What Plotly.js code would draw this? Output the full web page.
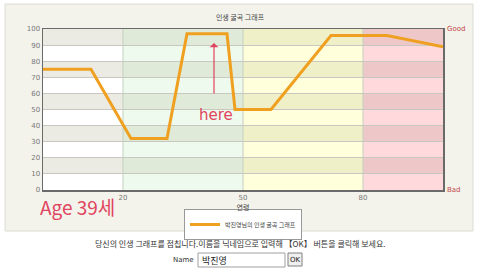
<!DOCTYPE html>
<html><head><meta charset="utf-8">
<script src="https://cdn.plot.ly/plotly-3.0.1.min.js"></script>
<style>html,body{margin:0;padding:0;background:#fff;}#c{width:480px;height:270px;}</style>
</head><body><div id="c"></div>
<script>
// Data
var ages = [0, 12, 22, 31, 36, 46, 48, 57, 72, 86, 100];
var scores = [75, 75, 32, 32, 97, 97, 50, 50, 96, 96, 89];
var seriesName = "박진영님의 인생 굴곡 그래프";
var chartTitle = "인생 굴곡 그래프";
var xTitle = "연령";
var xTicks = [20, 50, 80];
var yTicks = [0, 10, 20, 30, 40, 50, 60, 70, 80, 90, 100];
var zoneEdges = [0, 20, 50, 80, 100];
var zoneDark = ["#ebebe4", "#dfebd8", "#f0f0c8", "#eec8c8"];
var zoneLight = ["#ffffff", "#effaef", "#ffffdc", "#ffd9dc"];

var shapes = [];
function px(x){return (x-43)/400;}
function py(y){return (190-y)/161;}
shapes.push({type:'rect', xref:'paper', yref:'paper', x0:px(5), x1:px(473), y0:py(231), y1:py(4),
  fillcolor:'#f3f3ec', line:{color:'#dcdcd4', width:1}, layer:'below'});
for (var i=0;i<4;i++){
  for (var r=0;r<10;r++){
    var dark = (r%2===1);
    shapes.push({type:'rect', xref:'x', yref:'y', x0:zoneEdges[i], x1:zoneEdges[i+1], y0:r*10, y1:r*10+10,
      fillcolor: dark?zoneDark[i]:zoneLight[i], line:{width:0}, layer:'below'});
  }
}
for (var k=1;k<4;k++){
  shapes.push({type:'line', xref:'x', yref:'y', x0:zoneEdges[k], x1:zoneEdges[k], y0:0, y1:100,
    line:{color:'#c4cfc0', width:1}, layer:'below'});
}
shapes.push({type:'rect', xref:'paper', yref:'paper', x0:px(198), x1:px(285), y0:py(267), y1:py(253),
  fillcolor:'#ffffff', line:{color:'#a0a0a0', width:1}});
shapes.push({type:'rect', xref:'paper', yref:'paper', x0:px(288), x1:px(302), y0:py(266), y1:py(253),
  fillcolor:'#f0f0f0', line:{color:'#808080', width:1}});

var red = '#e0455e';
var annotations = [
  {text:'Good', xref:'paper', yref:'paper', x:px(445), y:py(29), xanchor:'left', yanchor:'middle', showarrow:false,
   font:{size:7, color:'#c04848', family:'DejaVu Sans'}},
  {text:'Bad', xref:'paper', yref:'paper', x:px(445), y:py(190), xanchor:'left', yanchor:'middle', showarrow:false,
   font:{size:7, color:'#c04848', family:'DejaVu Sans'}},
  {text:'Age 39세', xref:'paper', yref:'paper', x:px(38), y:py(206), xanchor:'left', yanchor:'middle', showarrow:false,
   font:{size:19, color:red, family:'Noto Sans CJK KR'}},
  {text:'here', xref:'paper', yref:'paper', x:px(216), y:py(115), xanchor:'center', yanchor:'middle', showarrow:false,
   font:{size:15, color:red, family:'DejaVu Sans'}},
  {xref:'paper', yref:'paper', x:px(214), y:py(43), ax:0, ay:52, axref:'pixel', ayref:'pixel', text:'', showarrow:true,
   arrowhead:1, arrowsize:1.2, arrowwidth:1.2, arrowcolor:red},
  {text:'당신의 인생 그래프를 점칩니다.이름을 닉네임으로 입력해 【OK】 버튼을 클릭해 보세요.', xref:'paper', yref:'paper',
   x:px(240), y:py(243.5), xanchor:'center', yanchor:'middle', showarrow:false,
   font:{size:8, color:'#333', family:'Noto Sans CJK KR'}},
  {text:'Name', xref:'paper', yref:'paper', x:px(196), y:py(260), xanchor:'right', yanchor:'middle', showarrow:false,
   font:{size:7, color:'#333', family:'DejaVu Sans'}},
  {text:'박진영', xref:'paper', yref:'paper', x:px(200), y:py(260), xanchor:'left', yanchor:'middle', showarrow:false,
   font:{size:9, color:'#222', family:'Noto Sans CJK KR'}},
  {text:'OK', xref:'paper', yref:'paper', x:px(295), y:py(259.5), xanchor:'center', yanchor:'middle', showarrow:false,
   font:{size:7, color:'#222', family:'DejaVu Sans'}}
];

var trace = {x:ages, y:scores, mode:'lines', name:seriesName, line:{color:'#f0a020', width:3}};

var layout = {
  width:480, height:270,
  margin:{l:43, r:37, t:29, b:80},
  paper_bgcolor:'#ffffff', plot_bgcolor:'rgba(0,0,0,0)',
  title:{text:chartTitle, x:0.5, xanchor:'center', y:1-18/270, yanchor:'middle', font:{size:7, color:'#444', family:'Noto Sans CJK KR'}},
  xaxis:{range:[0,100], tickvals:xTicks, ticks:'', showgrid:false, zeroline:false,
    showline:true, mirror:true, linecolor:'#6a6a6a', linewidth:1.5,
    tickfont:{size:7, color:'#777', family:'DejaVu Sans'},
    title:{text:xTitle, standoff:2, font:{size:7, color:'#444', family:'Noto Sans CJK KR'}}},
  yaxis:{range:[0,100], tickvals:yTicks, ticks:'', showgrid:true, gridcolor:'#c8c8c0', gridwidth:1, zeroline:false,
    showline:true, mirror:true, linecolor:'#6a6a6a', linewidth:1.5,
    tickfont:{size:7, color:'#777', family:'DejaVu Sans'}},
  showlegend:true,
  legend:{orientation:'v', x:0.5, xanchor:'center', y:py(224.5), yanchor:'middle', bgcolor:'#ffffff', bordercolor:'#999', borderwidth:1,
    font:{size:6, color:'#444', family:'Noto Sans CJK KR'}, itemwidth:30, tracegroupgap:0},
  shapes:shapes, annotations:annotations
};
Plotly.newPlot('c', [trace], layout, {staticPlot:true});
</script></body></html>
